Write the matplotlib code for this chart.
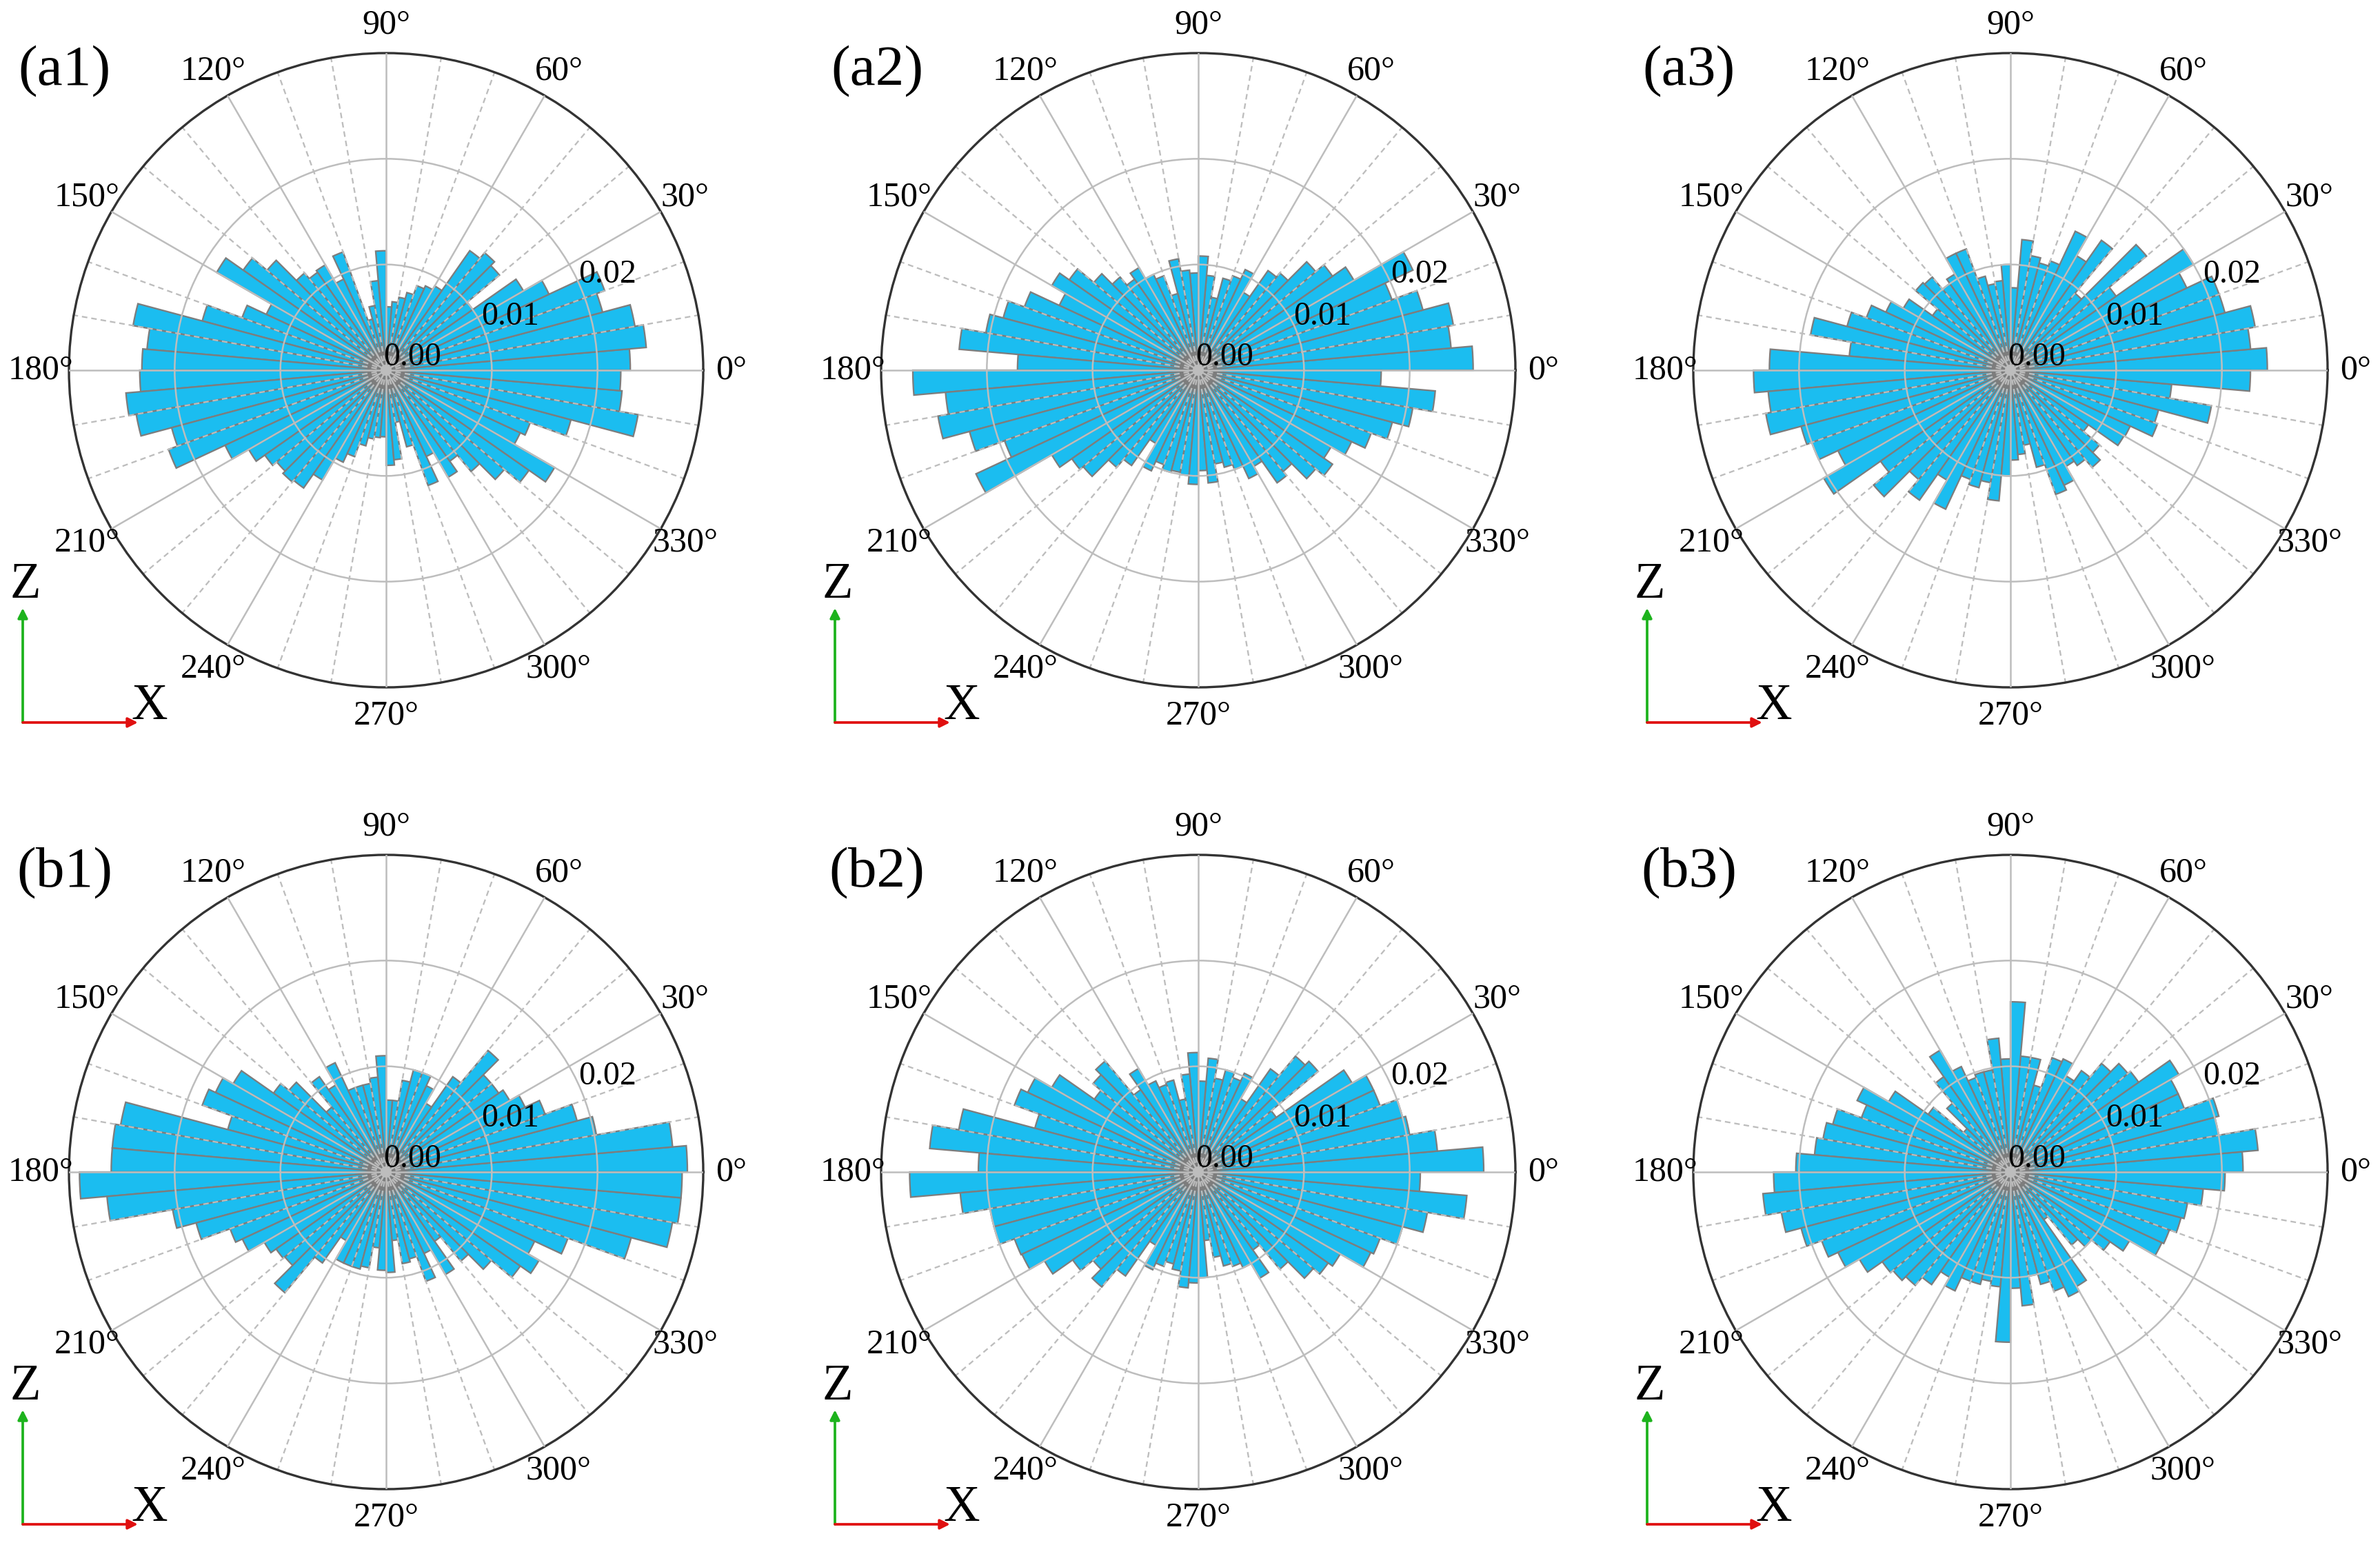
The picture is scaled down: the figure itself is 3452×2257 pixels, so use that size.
import numpy as np
import matplotlib
matplotlib.use('Agg')
import matplotlib.pyplot as plt
from matplotlib.patches import FancyArrowPatch

plt.rcParams['font.family'] = ['Liberation Serif', 'DejaVu Serif']

# ---------------- data (relative frequency per 5-degree bin, bins start at 0 deg) ----------------
panel_names = ['(a1)', '(a2)', '(a3)', '(b1)', '(b2)', '(b3)']
angle_tick_deg = [0, 30, 60, 90, 120, 150, 180, 210, 240, 270, 300, 330]
angle_tick_labels = ['0°', '30°', '60°', '90°', '120°', '150°', '180°',
                     '210°', '240°', '270°', '300°', '330°']
r_tick_values = [0.00, 0.01, 0.02]
r_tick_labels = ['0.00', '0.01', '0.02']
bin_width_deg = 5
bin_centers_deg = [2.5 + bin_width_deg * i for i in range(72)]

a1 = [0.0231, 0.0247, 0.0239, 0.0212, 0.0220, 0.0170, 0.0150, 0.0100, 0.0140, 0.0145, 0.0138, 0.0092,
      0.0088, 0.0085, 0.0076, 0.0070, 0.0065, 0.0060, 0.0113, 0.0085, 0.0062, 0.0050, 0.0119, 0.0095,
      0.0115, 0.0113, 0.0120, 0.0147, 0.0165, 0.0185, 0.0125, 0.0145, 0.0180, 0.0243, 0.0227, 0.0231,
      0.0233, 0.0247, 0.0240, 0.0210, 0.0219, 0.0168, 0.0150, 0.0140, 0.0135, 0.0138, 0.0136, 0.0120,
      0.0096, 0.0087, 0.0074, 0.0066, 0.0064, 0.0063, 0.0090, 0.0085, 0.0050, 0.0075, 0.0116, 0.0090,
      0.0117, 0.0105, 0.0125, 0.0146, 0.0165, 0.0184, 0.0140, 0.0145, 0.0181, 0.0242, 0.0224, 0.0222]

a2 = [0.0260, 0.0240, 0.0245, 0.0220, 0.0195, 0.0224, 0.0170, 0.0155, 0.0145, 0.0120, 0.0115, 0.0085,
      0.0105, 0.0095, 0.0090, 0.0070, 0.0090, 0.0108, 0.0092, 0.0095, 0.0107, 0.0075, 0.0095, 0.0100,
      0.0112, 0.0105, 0.0115, 0.0129, 0.0149, 0.0160, 0.0145, 0.0175, 0.0191, 0.0204, 0.0227, 0.0171,
      0.0270, 0.0240, 0.0250, 0.0224, 0.0195, 0.0232, 0.0160, 0.0146, 0.0142, 0.0120, 0.0110, 0.0080,
      0.0105, 0.0095, 0.0100, 0.0098, 0.0100, 0.0108, 0.0095, 0.0107, 0.0090, 0.0095, 0.0100, 0.0113,
      0.0105, 0.0130, 0.0125, 0.0145, 0.0155, 0.0145, 0.0160, 0.0174, 0.0190, 0.0206, 0.0225, 0.0173]

a3 = [0.0243, 0.0228, 0.0235, 0.0210, 0.0210, 0.0184, 0.0200, 0.0122, 0.0168, 0.0095, 0.0150, 0.0125,
      0.0145, 0.0110, 0.0105, 0.0110, 0.0124, 0.0078, 0.0100, 0.0085, 0.0083, 0.0092, 0.0122, 0.0122,
      0.0105, 0.0100, 0.0115, 0.0117, 0.0090, 0.0117, 0.0130, 0.0145, 0.0160, 0.0192, 0.0153, 0.0228,
      0.0243, 0.0230, 0.0235, 0.0205, 0.0200, 0.0180, 0.0204, 0.0150, 0.0169, 0.0135, 0.0150, 0.0120,
      0.0145, 0.0110, 0.0115, 0.0108, 0.0124, 0.0100, 0.0085, 0.0080, 0.0072, 0.0095, 0.0125, 0.0120,
      0.0105, 0.0110, 0.0120, 0.0110, 0.0090, 0.0124, 0.0125, 0.0148, 0.0145, 0.0193, 0.0153, 0.0227]

b1 = [0.0285, 0.0272, 0.0202, 0.0187, 0.0160, 0.0145, 0.0135, 0.0130, 0.0130, 0.0150, 0.0110, 0.0075,
      0.0090, 0.0100, 0.0100, 0.0088, 0.0068, 0.0068, 0.0110, 0.0090, 0.0085, 0.0085, 0.0085, 0.0114,
      0.0095, 0.0110, 0.0080, 0.0120, 0.0130, 0.0167, 0.0178, 0.0185, 0.0155, 0.0255, 0.0260, 0.0260,
      0.0290, 0.0265, 0.0205, 0.0186, 0.0157, 0.0150, 0.0133, 0.0127, 0.0125, 0.0149, 0.0105, 0.0075,
      0.0095, 0.0095, 0.0095, 0.0092, 0.0072, 0.0093, 0.0095, 0.0065, 0.0088, 0.0085, 0.0110, 0.0085,
      0.0112, 0.0080, 0.0110, 0.0130, 0.0155, 0.0167, 0.0155, 0.0183, 0.0240, 0.0275, 0.0280, 0.0280]

b2 = [0.0270, 0.0227, 0.0203, 0.0200, 0.0183, 0.0183, 0.0168, 0.0090, 0.0148, 0.0143, 0.0119, 0.0080,
      0.0103, 0.0095, 0.0100, 0.0090, 0.0108, 0.0086, 0.0113, 0.0093, 0.0070, 0.0090, 0.0088, 0.0095,
      0.0113, 0.0095, 0.0137, 0.0130, 0.0120, 0.0160, 0.0178, 0.0185, 0.0160, 0.0230, 0.0255, 0.0208,
      0.0273, 0.0226, 0.0200, 0.0200, 0.0185, 0.0184, 0.0168, 0.0145, 0.0130, 0.0142, 0.0120, 0.0080,
      0.0102, 0.0095, 0.0090, 0.0095, 0.0110, 0.0105, 0.0100, 0.0065, 0.0082, 0.0092, 0.0095, 0.0100,
      0.0116, 0.0090, 0.0120, 0.0142, 0.0150, 0.0155, 0.0180, 0.0183, 0.0200, 0.0220, 0.0255, 0.0210]

b3 = [0.0220, 0.0235, 0.0200, 0.0204, 0.0175, 0.0175, 0.0184, 0.0148, 0.0145, 0.0134, 0.0117, 0.0105,
      0.0118, 0.0115, 0.0085, 0.0110, 0.0110, 0.0161, 0.0107, 0.0127, 0.0098, 0.0098, 0.0095, 0.0110,
      0.0133, 0.0110, 0.0085, 0.0058, 0.0095, 0.0133, 0.0160, 0.0150, 0.0174, 0.0180, 0.0186, 0.0203,
      0.0224, 0.0235, 0.0220, 0.0205, 0.0190, 0.0180, 0.0165, 0.0148, 0.0145, 0.0140, 0.0130, 0.0115,
      0.0124, 0.0110, 0.0110, 0.0105, 0.0109, 0.0161, 0.0110, 0.0127, 0.0100, 0.0110, 0.0120, 0.0130,
      0.0125, 0.0055, 0.0090, 0.0100, 0.0115, 0.0130, 0.0158, 0.0160, 0.0167, 0.0170, 0.0183, 0.0203]

panel_values = [a1, a2, a3, b1, b2, b3]

# ---------------- style / layout ----------------
W, H, DPI = 3452, 2257, 300
BAR_COLOR = '#1bbdf0'
EDGE_COLOR = '#7d7d7d'
GRID_COLOR = '#bdbdbd'
R_MAX = 0.03
RADIUS_PX = 460
centers_px = [(560, 537), (1738, 537), (2916, 537),
              (560, 1700), (1738, 1700), (2916, 1700)]

fig = plt.figure(figsize=(W / DPI, H / DPI), dpi=DPI)
fig.patch.set_facecolor('white')


def fx(px):
    return px / W


def fy(py):
    return 1 - py / H


for name, vals, (cx, cy) in zip(panel_names, panel_values, centers_px):
    rect = [fx(cx - RADIUS_PX), fy(cy + RADIUS_PX), 2 * RADIUS_PX / W, 2 * RADIUS_PX / H]
    ax = fig.add_axes(rect, projection='polar')
    theta = np.deg2rad(bin_centers_deg)
    ax.bar(theta, vals, width=np.deg2rad(bin_width_deg), color=BAR_COLOR,
           edgecolor=EDGE_COLOR, linewidth=0.55, zorder=1)
    ax.set_ylim(0, R_MAX)
    ax.set_thetagrids(angle_tick_deg, angle_tick_labels, fontsize=12)
    ax.set_rgrids([0.01, 0.02])
    ax.set_yticklabels([])
    ax.set_axisbelow(False)
    ax.grid(True, color=GRID_COLOR, linewidth=0.6, linestyle='-', zorder=2.5)
    for d in range(0, 360, 10):
        if d % 30:
            ax.plot([np.deg2rad(d), np.deg2rad(d)], [0, R_MAX], color=GRID_COLOR,
                    linewidth=0.55, linestyle=(0, (3.5, 2.5)), zorder=2.5)
    ax.spines['polar'].set_color('#333333')
    ax.spines['polar'].set_linewidth(0.8)
    ax.tick_params(axis='x', pad=2.8, length=0)
    ax.tick_params(axis='y', length=0)
    # radial labels
    for rv, rl in zip(r_tick_values, r_tick_labels):
        ang = 27 if rv == 0 else 23.5
        ax.text(np.deg2rad(ang), rv + 0.0028, rl, ha='center', va='center',
                fontsize=11.5, zorder=5)

    # panel label
    fig.text(fx(cx - 466), fy(cy - 433), name, ha='center', va='center', fontsize=20)

    # coordinate arrows
    ox, oy = cx - 527, cy + 511
    fig.add_artist(FancyArrowPatch((fx(ox), fy(oy)), (fx(ox), fy(cy + 345)),
                                   transform=fig.transFigure, arrowstyle='-|>',
                                   mutation_scale=7, color='#1db31d', linewidth=0.9,
                                   shrinkA=0, shrinkB=0))
    fig.add_artist(FancyArrowPatch((fx(ox), fy(oy)), (fx(cx - 360), fy(oy)),
                                   transform=fig.transFigure, arrowstyle='-|>',
                                   mutation_scale=7, color='#e01010', linewidth=0.9,
                                   shrinkA=0, shrinkB=0))
    fig.text(fx(cx - 523), fy(cy + 312), 'Z', ha='center', va='center', fontsize=17.5)
    fig.text(fx(cx - 343), fy(cy + 488), 'X', ha='center', va='center', fontsize=17.5)

fig.savefig('out.png', dpi=DPI, facecolor='white')
